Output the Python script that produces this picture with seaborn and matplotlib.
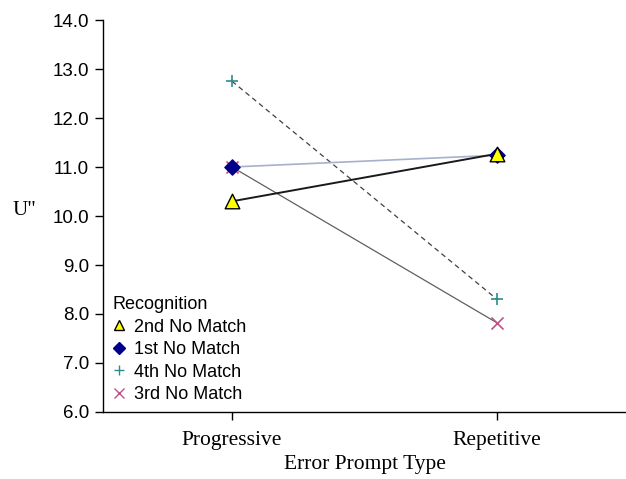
import pandas as pd
import matplotlib.pyplot as plt
import seaborn as sns
from matplotlib.lines import Line2D

prompt_types = ["Progressive", "Repetitive"]
series = ["3rd No Match", "4th No Match", "1st No Match", "2nd No Match"]
values = {
    "2nd No Match": [10.3, 11.27],
    "1st No Match": [11.0, 11.24],
    "4th No Match": [12.75, 8.3],
    "3rd No Match": [11.0, 7.82],
}
legend_order = ["2nd No Match", "1st No Match", "4th No Match", "3rd No Match"]

rows = []
for s in series:
    for i, p in enumerate(prompt_types):
        rows.append({"Recognition": s, "pos": i, "U": values[s][i]})
df = pd.DataFrame(rows)

sns.set_style("ticks")
plt.rcParams["font.family"] = ["Liberation Sans", "DejaVu Sans"]
plt.rcParams["text.color"] = "black"
plt.rcParams["axes.labelcolor"] = "black"

# marker / line look per series
mk = {"2nd No Match": "^", "1st No Match": "D", "4th No Match": "+", "3rd No Match": "x"}
mface = {"2nd No Match": "#ffff00", "1st No Match": "#00008b", "4th No Match": "#2e8b8b", "3rd No Match": "#c0508a"}
medge = {"2nd No Match": "black", "1st No Match": "#00008b", "4th No Match": "#2e8b8b", "3rd No Match": "#c0508a"}
msize = {"2nd No Match": 110, "1st No Match": 60, "4th No Match": 75, "3rd No Match": 75}
lcol = {"2nd No Match": "#1a1a1a", "1st No Match": "#a8b0cc", "4th No Match": "#404040", "3rd No Match": "#606060"}
lsty = {"2nd No Match": "-", "1st No Match": "-", "4th No Match": (0, (4, 3)), "3rd No Match": "-"}
lw = {"2nd No Match": 1.4, "1st No Match": 1.2, "4th No Match": 0.9, "3rd No Match": 0.9}

fig = plt.figure(figsize=(6.26, 4.79), dpi=100)
ax = fig.add_axes([0.1645, 0.1399, 0.8355, 0.8183])

for s in series:
    d = df[df["Recognition"] == s]
    sns.lineplot(data=d, x="pos", y="U", ax=ax, color=lcol[s], linestyle=lsty[s],
                 linewidth=lw[s], legend=False, zorder=2)
for s in series:
    d = df[df["Recognition"] == s]
    sns.scatterplot(data=d, x="pos", y="U", ax=ax, marker=mk[s], s=msize[s],
                    color=mface[s], edgecolor=medge[s],
                    linewidth=1.0 if mk[s] in ("^", "D") else 1.2,
                    legend=False, zorder=3)

ax.set_xlim(-0.487, 1.487)
ax.set_ylim(6.0, 14.0)
ax.set_xticks([0, 1])
ax.set_xticklabels(prompt_types, fontfamily="Liberation Serif", fontsize=15.5)
ax.set_yticks([6 + i for i in range(9)])
ax.set_yticklabels([f"{6 + i:.1f}" for i in range(9)], fontsize=13.5)
ax.tick_params(axis="both", direction="out", length=6, width=1, colors="black")
ax.tick_params(axis="y", pad=4)
ax.tick_params(axis="x", pad=8)
ax.set_xlabel("Error Prompt Type", fontfamily="Liberation Serif", fontsize=15.5, labelpad=3)
ax.set_ylabel('U"', fontfamily="Liberation Serif", fontsize=15, rotation=0)
ax.yaxis.set_label_coords(-0.15, 0.49)
sns.despine(ax=ax)
for sp in ["left", "bottom"]:
    ax.spines[sp].set_color("black")
    ax.spines[sp].set_linewidth(1)

handles = [Line2D([], [], linestyle="none", marker=mk[s], markersize=7 if mk[s] != "D" else 6,
                  markerfacecolor=mface[s], markeredgecolor=medge[s], markeredgewidth=1)
           for s in legend_order]
leg = ax.legend(handles, legend_order, title="Recognition", loc="lower left",
                frameon=False, fontsize=13, title_fontsize=13, handlelength=0.8,
                handletextpad=0.4, labelspacing=0.3, borderaxespad=0.1,
                bbox_to_anchor=(0.0, 0.0))
leg._legend_box.align = "left"

fig.savefig("out.png", dpi=100)
